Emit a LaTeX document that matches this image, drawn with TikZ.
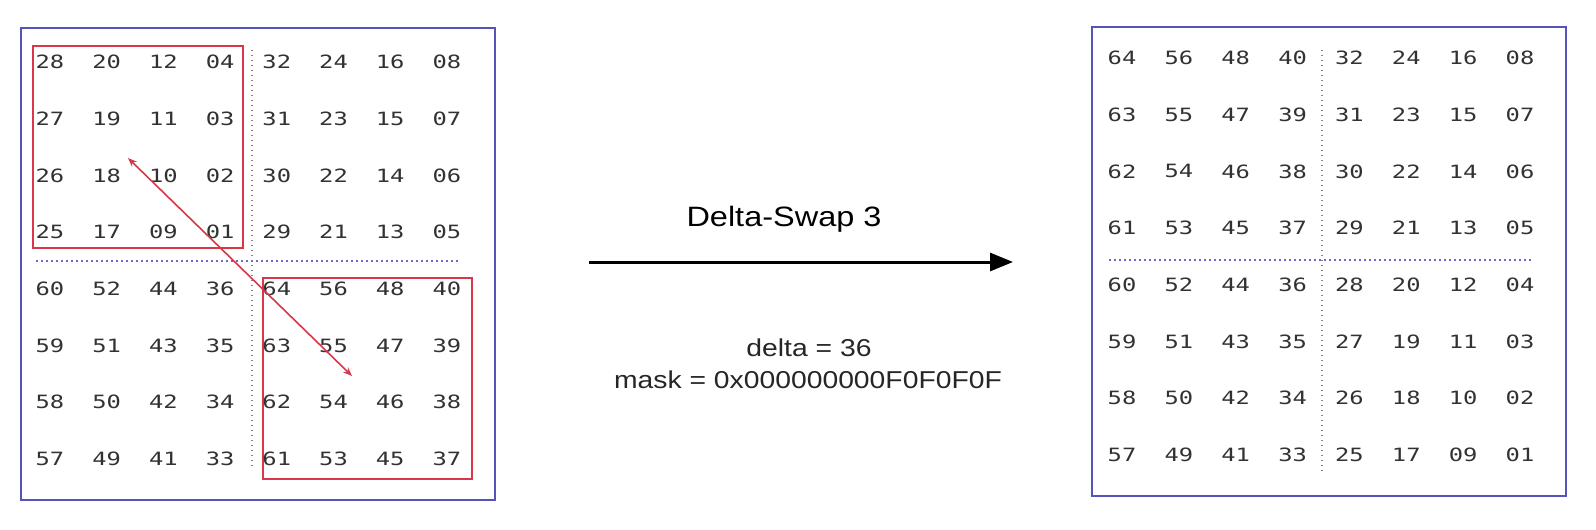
\documentclass[tikz,border=0pt]{standalone}
\usepackage{fontspec}
\setmainfont{Liberation Sans}[FakeStretch=1.16]
\newfontfamily\numfont{DejaVu Sans Mono}[FakeStretch=1.3]
\usetikzlibrary{arrows.meta}
\definecolor{boxblue}{RGB}{85,85,185}
\definecolor{boxred}{RGB}{215,55,70}
\definecolor{numgray}{RGB}{50,50,50}
\definecolor{lineblue}{RGB}{105,105,200}
\definecolor{linegray}{RGB}{130,130,130}
\begin{document}
\begin{tikzpicture}[x=0.5pt,y=-0.5pt,
  num/.style={font=\numfont\fontsize{9.15pt}{10pt}\selectfont, text=numgray, inner sep=0pt, anchor=center},
  frame/.style={draw=boxblue, line width=1pt, inner sep=0pt, outer sep=0pt},
  sel/.style={draw=boxred, line width=0.8pt, inner sep=0pt, outer sep=0pt},
  vsep/.style={draw=linegray, line width=0.7pt, dash pattern=on 0.7pt off 1.8pt},
  hsep/.style={draw=lineblue, line width=0.7pt, dash pattern=on 0.8pt off 1.7pt},
  swap/.style={draw=boxred, line width=0.8pt, {Stealth[length=4.5pt,width=3.5pt]}-{Stealth[length=4.5pt,width=3.5pt]}},
  mainarrow/.style={draw=black, line width=1.5pt, -{Triangle[length=11.5pt,width=9pt]}},
  title/.style={font=\fontsize{14pt}{16pt}\selectfont, inner sep=0pt, anchor=base},
  info/.style={font=\fontsize{12.2pt}{14pt}\selectfont, inner sep=0pt, anchor=base, text=black!85}
]
\useasboundingbox (0,0) rectangle (1596,530);

% frames
\node[frame, minimum width=237pt, minimum height=236pt] (lbox) at (258,264) {};
\node[frame, minimum width=237pt, minimum height=234.5pt] (rbox) at (1329,261.5) {};

% selection boxes
\node[sel, minimum width=105pt, minimum height=101pt] (selA) at (138,147) {};
\node[sel, minimum width=104.5pt, minimum height=100.5pt] (selB) at (367.5,378.5) {};

% separators
\coordinate (lvt) at (252,50);  \coordinate (lvb) at (252,470);
\coordinate (lhl) at (36,261);  \coordinate (lhr) at (458,261);
\coordinate (rvt) at (1322,50); \coordinate (rvb) at (1322,473);
\coordinate (rhl) at (1109,260); \coordinate (rhr) at (1532,260);
\draw[vsep] (lvt) -- (lvb);
\draw[hsep] (lhl) -- (lhr);
\draw[vsep] (rvt) -- (rvb);
\draw[hsep] (rhl) -- (rhr);

% numbers
\foreach \r in {0,...,7}{
  \foreach \c in {0,...,7}{
    \pgfmathtruncatemacro{\vl}{(\r<4)*((\c<4)*28+(\c>3)*32)+(\r>3)*((\c<4)*60+(\c>3)*64)-mod(\r,4)-8*mod(\c,4)}
    \pgfmathtruncatemacro{\vr}{(\r<4)*((\c<4)*64+(\c>3)*32)+(\r>3)*((\c<4)*60+(\c>3)*28)-mod(\r,4)-8*mod(\c,4)}
    \node[num] (L-\r-\c) at ({50+56.7*\c},{62+56.7*\r}) {\ifnum\vl<10 0\fi\vl};
    \node[num] (R-\r-\c) at ({1122+56.86*\c},{58+56.7*\r}) {\ifnum\vr<10 0\fi\vr};
  }
}

% swap arrow
\coordinate (sa) at (128,158);
\coordinate (sb) at (352,376);
\draw[swap] (sa) -- (sb);

% main arrow
\coordinate (ma) at (589,262);
\coordinate (mb) at (1013,262);
\draw[mainarrow] (ma) -- (mb);

\node[title] (ttl) at (784,226.7) {Delta-Swap 3};
\node[info] (dl) at (809,356.7) {delta = 36};
\node[info] (mk) at (808,388.3) {mask = 0x000000000F0F0F0F};
\end{tikzpicture}
\end{document}
